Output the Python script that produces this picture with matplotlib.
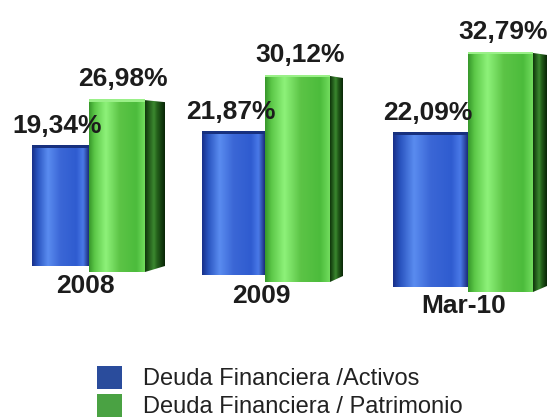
import matplotlib
matplotlib.use("Agg")
import matplotlib.pyplot as plt
import numpy as np
from matplotlib.colors import LinearSegmentedColormap
from matplotlib.patches import Polygon, Rectangle

plt.rcParams["font.family"] = ["Liberation Sans", "DejaVu Sans"]

# data
categories = ["2008", "2009", "Mar-10"]
activos = [19.34, 21.87, 22.09]
patrimonio = [26.98, 30.12, 32.79]
series_names = ["Deuda Financiera /Activos", "Deuda Financiera / Patrimonio"]

# perspective layout (pixel space), one entry per group
group_left = [32, 202, 393]
blue_width = [57, 63, 75]
green_front = [56, 65, 65]
green_side = [20, 13, 14]
blue_base = [266, 275, 287]
green_base = [272, 282, 292]
blue_scale = [6.2, 6.54, 6.97]
green_scale = [6.37, 6.84, 7.29]

BLUE = LinearSegmentedColormap.from_list("blue", [
    (0.0, "#182f88"), (0.1, "#2a55c0"), (0.28, "#5a8cf0"), (0.5, "#3b67d6"),
    (0.78, "#2f5cd0"), (0.9, "#4a7ae8"), (1.0, "#1a2c7a")])
GREEN = LinearSegmentedColormap.from_list("green", [
    (0.0, "#36962a"), (0.1, "#5cc848"), (0.3, "#8ef27a"), (0.55, "#5cc446"),
    (0.85, "#4cbc3c"), (1.0, "#72dc5e")])
SIDE = LinearSegmentedColormap.from_list("side", [
    (0.0, "#0e330a"), (0.45, "#3c8a30"), (0.6, "#25621c"), (1.0, "#082406")])

fig = plt.figure(figsize=(5.48, 4.19), dpi=100)
ax = fig.add_axes([0, 0, 1, 1])
grad = np.linspace(0, 1, 256)[None, :]


def gradient_bar(x0, x1, bottom, top, cmap, clip=None):
    im = ax.imshow(grad, cmap=cmap, extent=[x0, x1, bottom, top],
                   aspect="auto", interpolation="bicubic", zorder=2)
    if clip is not None:
        poly = Polygon(clip, closed=True, transform=ax.transData, fill=False, lw=0)
        ax.add_patch(poly)
        im.set_clip_path(poly)
    return im


def fmt(v):
    return f"{v:.2f}%".replace(".", ",")


for i, cat in enumerate(categories):
    # blue cylinder
    bx0 = group_left[i]
    bx1 = bx0 + blue_width[i]
    btop = blue_base[i] - activos[i] * blue_scale[i]
    gradient_bar(bx0, bx1, blue_base[i], btop, BLUE)
    ax.add_patch(Rectangle((bx0, btop - 1), blue_width[i], 3,
                           color="#17307e", zorder=3, lw=0))

    # green box: front and side faces
    gx0 = bx1
    gx1 = gx0 + green_front[i]
    gx2 = gx1 + green_side[i]
    gtop = green_base[i] - patrimonio[i] * green_scale[i]
    gradient_bar(gx0, gx1, green_base[i], gtop, GREEN)
    side = [(gx1, gtop), (gx2, gtop + 2), (gx2, green_base[i] - 6), (gx1, green_base[i])]
    gradient_bar(gx1, gx2, green_base[i], gtop, SIDE, clip=side)
    ax.add_patch(Rectangle((gx0, gtop - 1), green_front[i], 2.5,
                           color="#9af088", zorder=3, lw=0))

    # value labels
    ax.text((bx0 + bx1) / 2 - 3, btop - 13, fmt(activos[i]), ha="center",
            va="baseline", fontsize=19, fontweight="bold", color="#1c1c1c", zorder=4)
    ax.text((gx0 + gx2) / 2 - 4, gtop - 14, fmt(patrimonio[i]), ha="center",
            va="baseline", fontsize=19, fontweight="bold", color="#1c1c1c", zorder=4)
    # category label
    ax.text(gx0 - 4, green_base[i] + 21, cat, ha="center", va="baseline",
            fontsize=19, fontweight="bold", color="#1c1c1c", zorder=4)

# legend
legend_colors = ["#2a4c9c", "#4aa243"]
for j, (name, col) in enumerate(zip(series_names, legend_colors)):
    y = 366 + j * 28
    ax.add_patch(Rectangle((97, y), 25, 23, color=col, lw=0, zorder=2))
    ax.text(143, y + 19, name, ha="left", va="baseline", fontsize=17,
            color="#222222", zorder=4)

ax.set_xlim(0, 548)
ax.set_ylim(419, 0)
ax.axis("off")
fig.savefig("out.png", dpi=100)
